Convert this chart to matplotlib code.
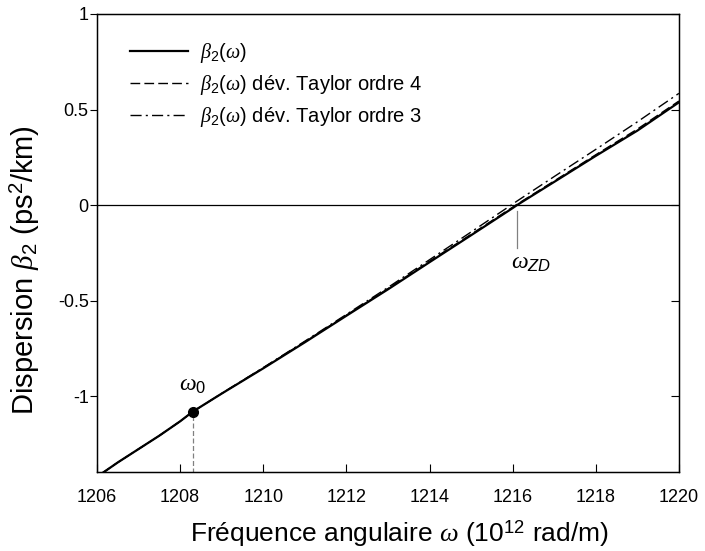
import numpy as np
import matplotlib.pyplot as plt

plt.rcParams['font.family'] = ['Liberation Sans', 'DejaVu Sans']
plt.rcParams['mathtext.fontset'] = 'custom'
plt.rcParams['mathtext.rm'] = 'Liberation Sans'
plt.rcParams['mathtext.it'] = 'Liberation Serif:italic'
plt.rcParams['mathtext.sf'] = 'Liberation Sans:italic'

# courbe beta2(omega)
omega = [1206.1, 1206.5, 1207.0, 1207.5, 1208.0, 1208.3, 1209.0, 1210.0, 1211.0, 1212.0,
         1213.0, 1214.0, 1215.0, 1216.0, 1216.1, 1217.0, 1218.0, 1219.0, 1220.0]
beta2 = [-1.405, -1.345, -1.275, -1.205, -1.13, -1.08, -0.985, -0.853, -0.717, -0.578,
         -0.44, -0.298, -0.157, -0.015, 0.0, 0.122, 0.258, 0.39, 0.538]
beta2_t4 = [-1.405, -1.345, -1.275, -1.205, -1.13, -1.08, -0.985, -0.851, -0.714, -0.575,
            -0.436, -0.293, -0.152, -0.010, 0.004, 0.127, 0.264, 0.398, 0.545]
beta2_t3 = [-1.405, -1.345, -1.275, -1.205, -1.13, -1.08, -0.984, -0.849, -0.711, -0.571,
            -0.430, -0.285, -0.140, 0.006, 0.021, 0.150, 0.292, 0.436, 0.585]

omega0, beta0 = 1208.3, -1.08
omega_zd = 1216.1

fig = plt.figure(figsize=(7.05, 5.51), dpi=100)
ax = fig.add_axes([0.1376, 0.1434, 0.8254, 0.8312])

ax.axhline(0, color='black', lw=0.9)
ax.plot(omega, beta2_t3, color='black', lw=1.0, dashes=[8, 3, 1.5, 3],
        label=r'$\beta_2(\omega)$ dév. Taylor ordre 3')
ax.plot(omega, beta2_t4, color='black', lw=1.0, ls=(0, (7, 3)),
        label=r'$\beta_2(\omega)$ dév. Taylor ordre 4')
ax.plot(omega, beta2, color='black', lw=1.6, label=r'$\beta_2(\omega)$')

ax.plot([omega0, omega0], [-1.4, beta0], color='gray', lw=0.9, ls=(0, (4, 2)))
ax.plot(omega0, beta0, 'o', color='black', ms=7)
ax.plot([omega_zd, omega_zd], [-0.03, -0.225], color='gray', lw=0.9)

ax.text(omega0, -0.94, r'$\omega_0$', fontsize=17, ha='center', va='center')
ax.text(omega_zd + 0.35, -0.30, r'$\omega_{\mathsf{ZD}}$', fontsize=17, ha='center', va='center')

ax.set_xlim(1206, 1220)
ax.set_ylim(-1.395, 1)
ax.set_xticks(np.arange(1206, 1221, 2))
ax.set_yticks([-1, -0.5, 0, 0.5, 1])
ax.set_yticklabels(['-1', '-0.5', '0', '0.5', '1'])
ax.tick_params(axis='x', direction='in', length=6, labelsize=13, pad=12)
ax.tick_params(axis='y', direction='out', length=5, labelsize=13, pad=1)
for s in ax.spines.values():
    s.set_linewidth(1.0)

ax2 = ax.twinx()
ax2.set_ylim(ax.get_ylim())
ax2.set_yticks([-1, -0.5, 0, 0.5, 1])
ax2.tick_params(axis='y', direction='in', length=6, labelright=False)

ax.set_xlabel(r'Fréquence angulaire $\omega$ (10$^{12}$ rad/m)', fontsize=19)
ax.set_ylabel(r'Dispersion $\beta_2$ (ps$^2$/km)', fontsize=21)
ax.xaxis.set_label_coords(0.52, -0.1)
ax.yaxis.set_label_coords(-0.095, 0.44)

h, l = ax.get_legend_handles_labels()
ax.legend(h[::-1], l[::-1], loc='upper left', bbox_to_anchor=(0.025, 0.98), frameon=False,
          fontsize=14.5, handlelength=2.9, labelspacing=0.4, handletextpad=0.6)

fig.savefig('out.png', dpi=100)
